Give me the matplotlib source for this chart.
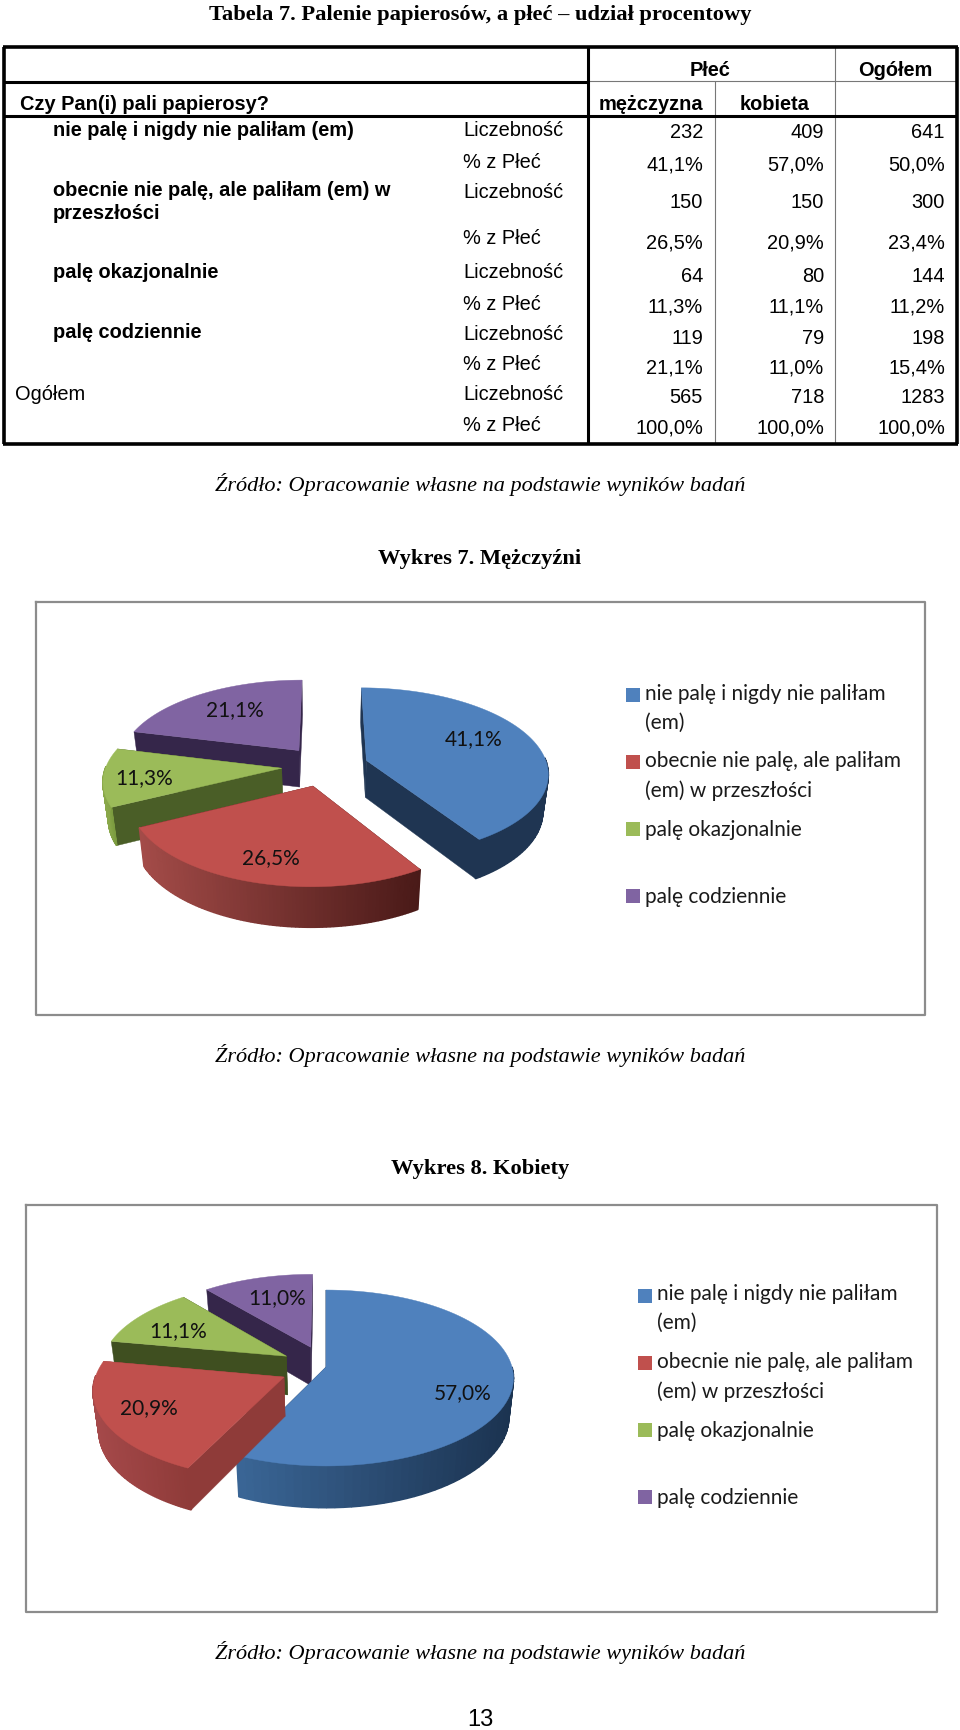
import numpy as np
import matplotlib; matplotlib.use("Agg"); import matplotlib.pyplot as plt
from matplotlib.colors import to_rgb

# table content
col_head = ["mężczyzna", "kobieta"]
row_names = ["nie palę i nigdy nie paliłam (em)", "obecnie nie palę, ale paliłam (em) w\nprzeszłości",
             "palę okazjonalnie", "palę codziennie", "Ogółem"]
kinds = ["Liczebność", "% z Płeć"] * 5
men = ["232", "41,1%", "150", "26,5%", "64", "11,3%", "119", "21,1%", "565", "100,0%"]
women = ["409", "57,0%", "150", "20,9%", "80", "11,1%", "79", "11,0%", "718", "100,0%"]
total = ["641", "50,0%", "300", "23,4%", "144", "11,2%", "198", "15,4%", "1283", "100,0%"]

# pies
legend_names = ["nie palę i nigdy nie paliłam\n(em)", "obecnie nie palę, ale paliłam\n(em) w przeszłości",
                "palę okazjonalnie", "palę codziennie"]
men_pct = [41.1, 26.5, 11.3, 21.1]
women_pct = [57.0, 20.9, 11.1, 11.0]
colors = ["#4f81bd", "#c0504d", "#9bbb59", "#8064a2"]

SANS = "Liberation Sans"; SERIF = "Liberation Serif"; CAL = "Lato"

fig = plt.figure(figsize=(9.6, 17.31), dpi=100)
ax = fig.add_axes([0, 0, 1, 1]); ax.set_xlim(0, 960); ax.set_ylim(1731, 0); ax.axis("off")

def line(x0, y0, x1, y1, c="k", lw=2.2):
    ax.plot([x0, x1], [y0, y1], color=c, lw=lw, solid_capstyle="butt")

# --- headings
ax.text(480, 15, "Tabela 7. Palenie papierosów, a płeć – udział procentowy", family=SERIF, weight="bold", size=16.2, ha="center", va="center")
for y in [485, 1056, 1653]:
    ax.text(480, y, "Źródło: Opracowanie własne na podstawie wyników badań", family=SERIF, style="italic", size=16, ha="center", va="center")
ax.text(480, 559, "Wykres 7. Mężczyźni", family=SERIF, weight="bold", size=16.2, ha="center", va="center")
ax.text(480, 1169, "Wykres 8. Kobiety", family=SERIF, weight="bold", size=16.2, ha="center", va="center")
ax.text(480, 1720, "13", family=SANS, size=17, ha="center", va="center")

# --- table
line(715, 82, 715, 445, "#777777", 0.8); line(835, 48, 835, 445, "#777777", 0.8); line(588, 82, 957, 82, "#777777", 0.8)
line(4, 83, 588, 83); line(4, 117, 957, 117); line(588, 48, 588, 445)
line(2.5, 48, 958, 48, lw=2.6); line(2.5, 445, 958, 445, lw=2.6); line(4, 48, 4, 445, lw=2.6); line(957, 48, 957, 445, lw=2.6)

tk = dict(family=SANS, size=14.4, va="center")
ax.text(710, 70, "Płeć", ha="center", weight="bold", **tk); ax.text(895, 70, "Ogółem", ha="center", weight="bold", **tk)
ax.text(20, 104, "Czy Pan(i) pali papierosy?", weight="bold", **tk)
ax.text(651, 104, col_head[0], ha="center", weight="bold", **tk); ax.text(775, 104, col_head[1], ha="center", weight="bold", **tk)
name_y = [131, 202, 273, 333, 395]
for i, n in enumerate(row_names):
    if n == "Ogółem":
        ax.text(15, name_y[i], n, **tk)
    else:
        ax.text(53, name_y[i], n, linespacing=1.25, weight="bold", **tk)
kind_y = [131, 162, 192, 238, 273, 304, 334, 365, 395, 426]
num_y = [133, 165, 203, 243, 277, 307, 338, 368, 398, 428]
for i in range(10):
    ax.text(463, kind_y[i], kinds[i], **tk)
    ax.text(703, num_y[i], men[i], ha="right", **tk)
    ax.text(824, num_y[i], women[i], ha="right", **tk)
    ax.text(945, num_y[i], total[i], ha="right", **tk)

# --- 3d pies
def draw_pie(vals, cx, cy, R, Ry, p, depth, expl, scale, order, walls, sides):
    edges = np.cumsum([0] + list(vals)) / sum(vals) * 360
    def proj(u, v):
        w = 1 + p * v
        return cx + R * u / w, cy - Ry * v / w, w
    def bottom(x, y, w):
        return cx + (x - cx) * 0.975, y + depth / np.sqrt(w)
    for i in order:
        a0, a1 = edges[i], edges[i + 1]; mid = np.radians((a0 + a1) / 2)
        ou, ov = expl[i] * np.sin(mid), expl[i] * np.cos(mid)
        th = np.radians(np.linspace(a0, a1, 90))
        ax_, ay_, aw = proj(ou, ov)
        ex, ey, ew = proj(ou + scale[i] * np.sin(th), ov + scale[i] * np.cos(th))
        bx, by = bottom(ex, ey, ew); abx, aby = bottom(ax_, ay_, aw)
        # radial walls
        for k in (0, -1):
            ax.fill([ax_, ex[k], bx[k], abx], [ay_, ey[k], by[k], aby], color=walls[i], lw=0.3, zorder=2)
        # outer wall, only the part that faces the viewer
        front = np.where(np.cos(th[:-1] + np.diff(th) / 2) < 0.02)[0]
        if len(front):
            xs = ex[front]; lo, hi = xs.min(), xs.max()
            for j in front:
                t = (ex[j] - lo) / max(hi - lo, 1)
                c = np.array(to_rgb(sides[i][0])) * (1 - t) + np.array(to_rgb(sides[i][1])) * t
                ax.fill([ex[j], ex[j + 1], bx[j + 1], bx[j]], [ey[j], ey[j + 1], by[j + 1], by[j]],
                        color=c, lw=1.2, joinstyle="bevel", zorder=2)
        ax.fill(np.r_[ax_, ex], np.r_[ay_, ey], color=colors[i], lw=0.3, zorder=2)

def frame(x0, y0, x1, y1):
    ax.plot([x0, x1, x1, x0, x0], [y0, y0, y1, y1, y0], color="#8c8c8c", lw=1.6, zorder=1)

def legend(x_sq, x_txt, sq_y, txt_y):
    for i, n in enumerate(legend_names):
        ax.scatter([x_sq], [sq_y[i]], marker="s", s=90, color=colors[i], lw=0, zorder=3)
        ax.text(x_txt, txt_y[i], n, family=CAL, size=15, va="center", color="#1a1a1a", linespacing=1.55, zorder=3)

def labels(vals, xs, ys):
    for v, x, y in zip(vals, xs, ys):
        ax.text(x, y, f"{v:.1f}%".replace(".", ","), family=CAL, size=15, ha="center", va="center", color="#111111", zorder=3)

frame(36, 603, 925, 1016)
draw_pie(men_pct, 325, 767, 181, 84, 0.137, 37, [0.24] * 4, [1, 0.97, 0.97, 1], [3, 2, 0, 1],
         ["#1f3552", "#4a1a18", "#4a5e27", "#35264a"],
         [("#1f3552", "#1f3552"), ("#a34b48", "#4a1a18"), ("#8aa84a", "#7a9a3e"), ("#35264a", "#35264a")])
labels(men_pct, [474, 271, 144, 235], [739, 858, 778, 710])
legend(633, 645, [696, 763, 830, 897], [708, 776, 830, 897])

frame(26, 1206, 937, 1613)
draw_pie(women_pct, 326, 1368, 186, 86.6, 0.125, 39, [0, 0.25, 0.25, 0.25], [1, 1, 1, 1], [3, 2, 0, 1],
         ["#1f3552", "#8f3b39", "#3f4f20", "#35264a"],
         [("#3a6595", "#1b3350"), ("#a5494a", "#8f3b39"), ("#7a9a3e", "#7a9a3e"), ("#35264a", "#35264a")])
labels(women_pct, [463, 149, 178, 277], [1393, 1408, 1331, 1298])
legend(645, 657, [1297, 1364, 1431, 1498], [1308, 1377, 1431, 1498])

fig.savefig("out.png", dpi=100)
